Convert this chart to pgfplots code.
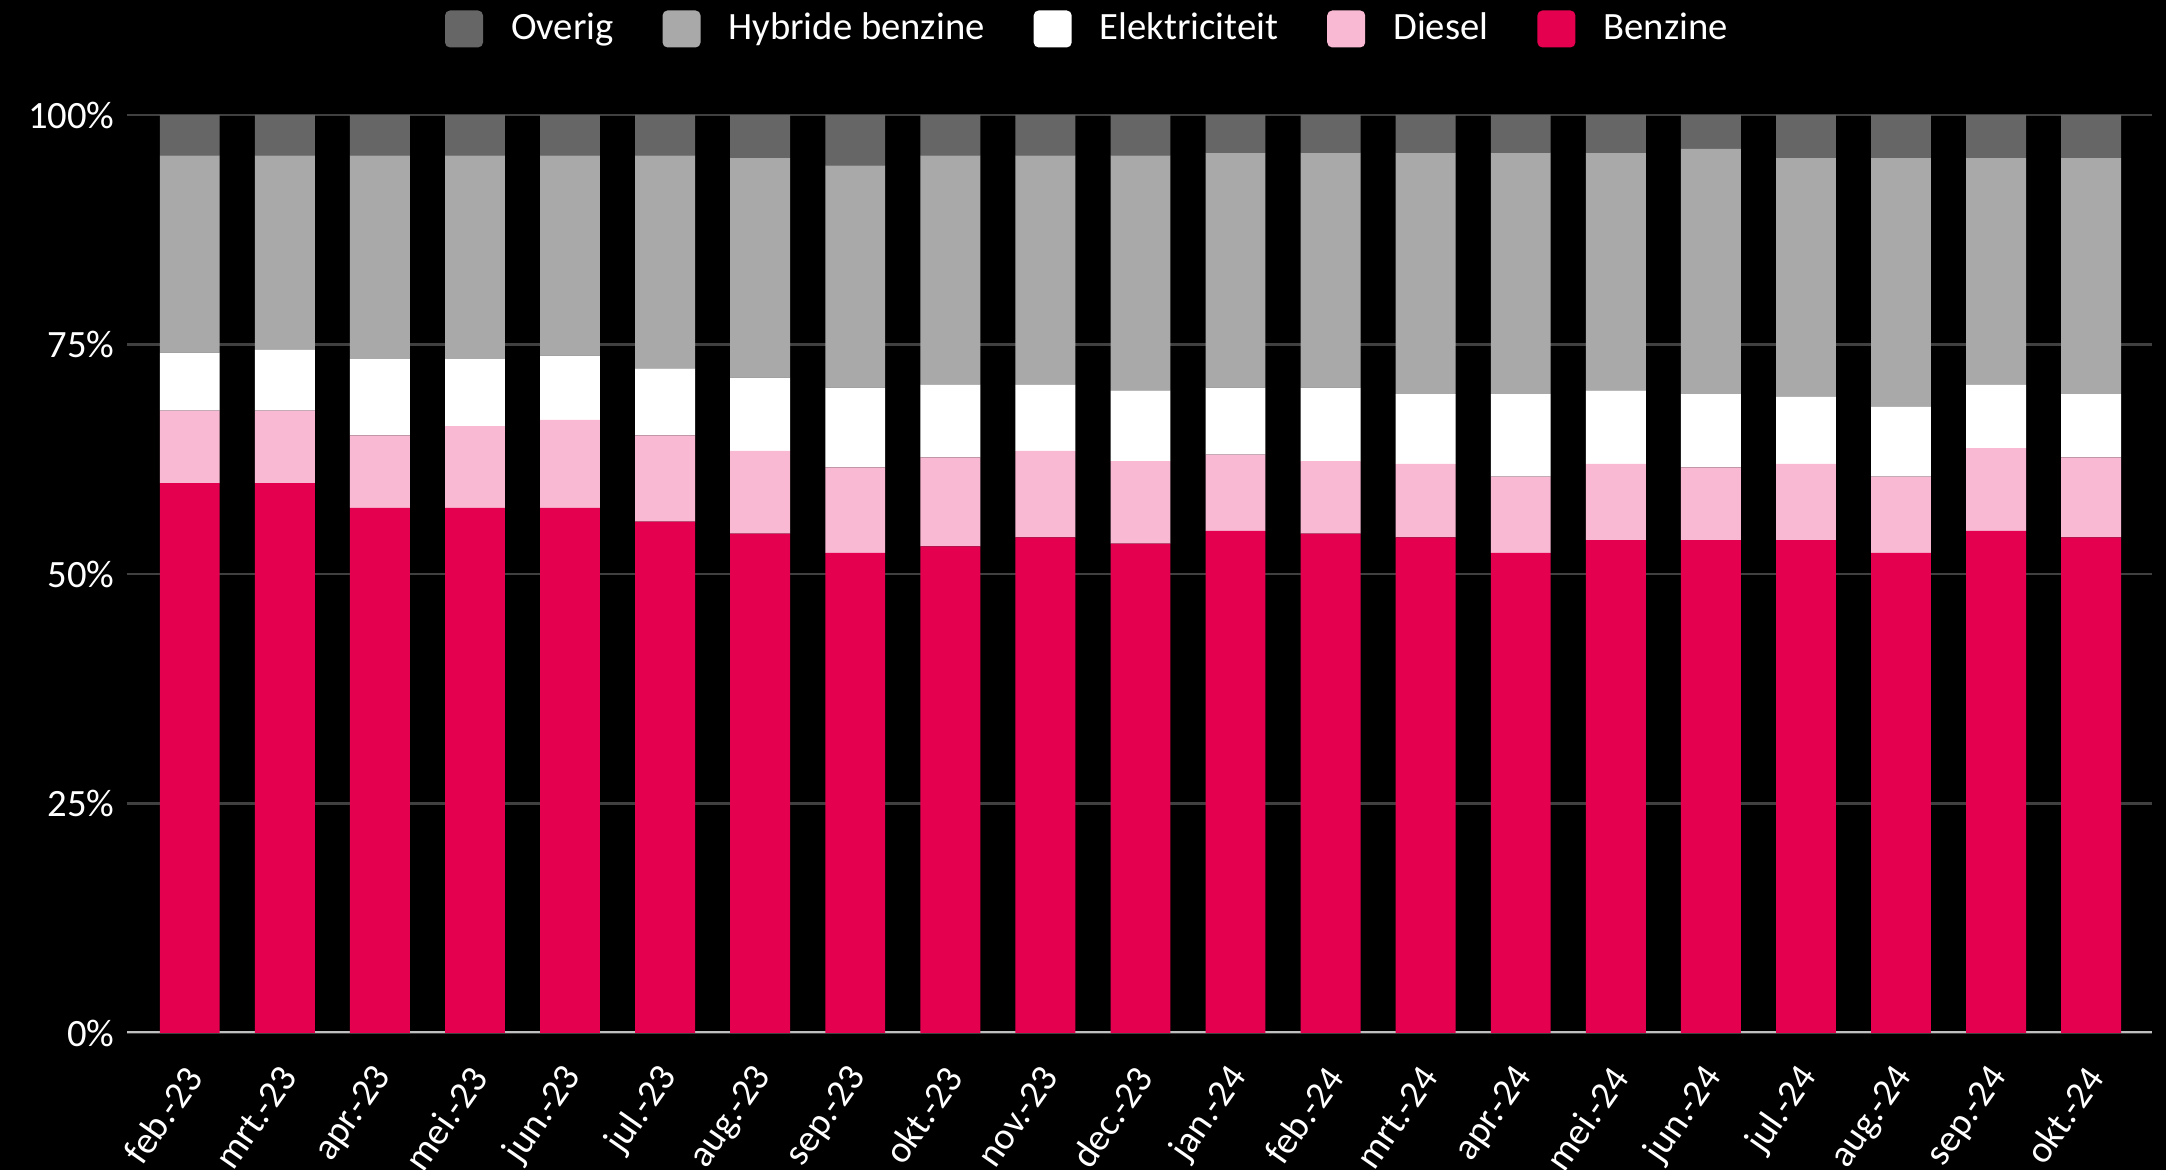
\documentclass[border=0pt]{standalone}
\usepackage{fontspec}
\setmainfont{Carlito}
\usepackage{pgfplots}
\usepackage{pgfplotstable}
\pgfplotsset{compat=1.18}

\definecolor{cOverig}{HTML}{666666}
\definecolor{cHybride}{HTML}{A9A9A9}
\definecolor{cElek}{HTML}{FFFFFF}
\definecolor{cDiesel}{HTML}{F9B9D2}
\definecolor{cBenzine}{HTML}{E4004F}
\definecolor{cGrid}{HTML}{404040}
\definecolor{cAxis}{HTML}{BFBFBF}

% share per fuel type, in percent
\pgfplotstableread{
idx benzine diesel elek hybride overig
0  59.9 7.9 6.3 21.5 4.4
1  59.9 7.9 6.6 21.2 4.4
2  57.2 7.9 8.3 22.2 4.4
3  57.2 8.9 7.3 22.2 4.4
4  57.2 9.6 7.0 21.8 4.4
5  55.7 9.4 7.3 23.2 4.4
6  54.4 9.0 8.0 23.9 4.7
7  52.3 9.3 8.7 24.2 5.5
8  53.0 9.7 7.9 25.0 4.4
9  54.0 9.4 7.2 25.0 4.4
10 53.3 9.0 7.7 25.6 4.4
11 54.7 8.3 7.3 25.6 4.1
12 54.4 7.9 8.0 25.6 4.1
13 54.0 8.0 7.6 26.3 4.1
14 52.3 8.3 9.0 26.3 4.1
15 53.7 8.3 8.0 25.9 4.1
16 53.7 7.9 8.0 26.7 3.7
17 53.7 8.3 7.3 26.0 4.7
18 52.3 8.3 7.6 27.1 4.7
19 54.7 9.0 6.9 24.7 4.7
20 54.0 8.7 6.9 25.7 4.7
}\brandstof

\begin{document}
\begin{tikzpicture}[font=\fontsize{11}{13}\selectfont]
\fill[black] (-12.7mm,-13.7mm) rectangle (203.9mm,103.3mm);
\useasboundingbox (-12.7mm,-13.7mm) rectangle (203.9mm,103.3mm);
\begin{axis}[
  at={(0,0)}, anchor=south west,
  scale only axis,
  width=202.5mm, height=91.8mm,
  ybar stacked,
  bar width=0.63,
  xmin=-0.66, xmax=20.64,
  ymin=0, ymax=100,
  axis line style={draw=none},
  major tick length=0pt,
  xtick={0,...,20},
  xticklabels={feb.-23,mrt.-23,apr.-23,mei.-23,jun.-23,jul.-23,aug.-23,sep.-23,okt.-23,nov.-23,dec.-23,jan.-24,feb.-24,mrt.-24,apr.-24,mei.-24,jun.-24,jul.-24,aug.-24,sep.-24,okt.-24},
  xticklabel style={xshift=1.1mm, yshift=-2.8mm, rotate=55, anchor=east,
    text=white, font=\fontsize{10.8}{13}\selectfont},
  ytick={25,50,75,100},
  yticklabels={25\%,50\%,75\%,100\%},
  extra y ticks={0},
  extra y tick labels={0\%},
  yticklabel style={text=white},
  ytick style={draw=none},
  /pgf/number format/assume math mode=true,
  ymajorgrids,
  grid style={color=cGrid, line width=0.25mm},
  legend columns=5,
  reverse legend,
  legend style={at={(0.4755,1.0937)}, anchor=center, draw=none, fill=none,
    text=white,
    /tikz/every odd column/.append style={column sep=2.1mm},
    /tikz/every even column/.append style={column sep=4.2mm}},
  legend image code/.code={\fill[#1, rounded corners=0.5mm] (0mm,-1.85mm) rectangle (3.8mm,1.85mm);},
]
\addplot[fill=cBenzine, draw=none] table[x=idx, y=benzine] {\brandstof};
\addplot[fill=cDiesel, draw=none] table[x=idx, y=diesel] {\brandstof};
\addplot[fill=cElek, draw=none] table[x=idx, y=elek] {\brandstof};
\addplot[fill=cHybride, draw=none] table[x=idx, y=hybride] {\brandstof};
\addplot[fill=cOverig, draw=none] table[x=idx, y=overig] {\brandstof};
\legend{Benzine,Diesel,Elektriciteit,Hybride benzine,Overig}
\draw[cAxis, line width=0.3mm] (rel axis cs:0,0) -- (rel axis cs:1,0);
\end{axis}
\end{tikzpicture}
\end{document}
